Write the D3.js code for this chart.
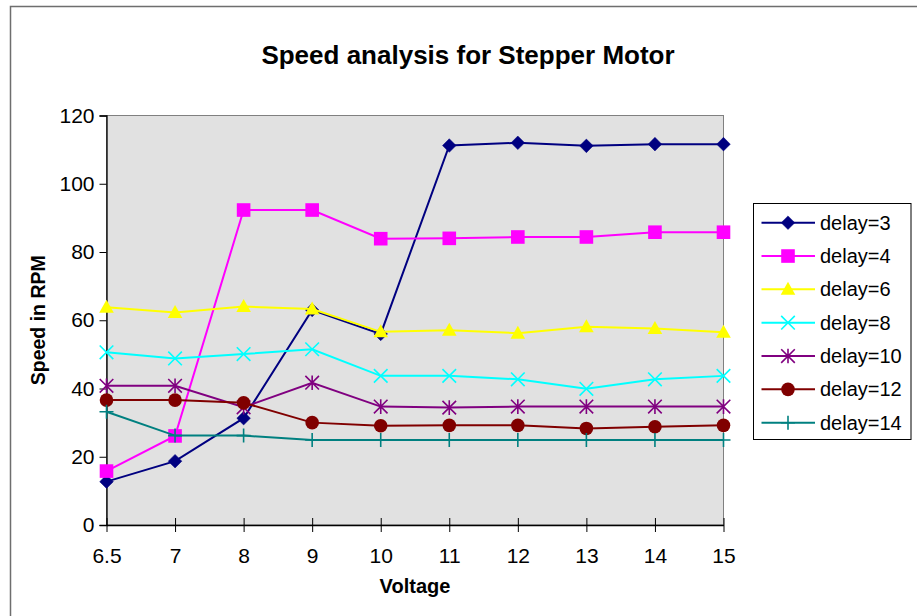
<!DOCTYPE html>
<html>
<head>
<meta charset="utf-8">
<script src="https://cdn.jsdelivr.net/npm/d3@7/dist/d3.min.js"></script>
<style>
  html, body { margin: 0; padding: 0; background: #fff; }
  svg { display: block; font-family: "Liberation Sans", Arial, sans-serif; }
</style>
</head>
<body>
<svg id="chart" width="917" height="616"></svg>
<script>
// Supply voltage steps (category axis)
const voltages = ["6.5", "7", "8", "9", "10", "11", "12", "13", "14", "15"];

// Measured speed (RPM) for each step delay setting
const seriesNames = ["delay=3", "delay=4", "delay=6", "delay=8", "delay=10", "delay=12", "delay=14"];
const delay3  = [12.7, 18.7, 31.3, 63.0, 56.0, 111.2, 112.0, 111.1, 111.6, 111.6];
const delay4  = [15.8, 26.1, 92.3, 92.3, 83.9, 84.0, 84.4, 84.4, 85.8, 85.8];
const delay6  = [63.8, 62.3, 64.0, 63.3, 56.6, 57.1, 56.2, 58.1, 57.6, 56.5];
const delay8  = [50.6, 48.8, 50.1, 51.5, 43.7, 43.7, 42.7, 39.9, 42.7, 43.7];
const delay10 = [40.8, 40.8, 34.5, 41.7, 34.7, 34.4, 34.7, 34.7, 34.7, 34.7];
const delay12 = [36.6, 36.6, 35.8, 30.0, 29.1, 29.2, 29.2, 28.3, 28.8, 29.2];
const delay14 = [33.2, 26.2, 26.2, 24.9, 24.9, 24.9, 24.9, 24.9, 24.9, 24.9];
const yTicks = [0, 20, 40, 60, 80, 100, 120];

const seriesValues = [delay3, delay4, delay6, delay8, delay10, delay12, delay14];
const colors = ["#000080", "#ff00ff", "#ffff00", "#00ffff", "#800080", "#800000", "#008080"];
const markers = ["diamond", "square", "triangle", "x", "star", "circle", "plus"];

const svg = d3.select("#chart");

// Outer chart frame (extends past the right and bottom edges)
svg.append("rect")
  .attr("x", 10.5).attr("y", 6.5)
  .attr("width", 940).attr("height", 640)
  .attr("fill", "#fff").attr("stroke", "#6e6e6e").attr("stroke-width", 1.5);

const plot = { left: 106.5, right: 723.5, top: 115.5, bottom: 525 };

const x = d3.scalePoint().domain(voltages).range([plot.left, plot.right]).padding(0);
const y = d3.scaleLinear().domain([0, 120]).range([plot.bottom, plot.top]);

// Plot area
svg.append("rect")
  .attr("x", plot.left).attr("y", plot.top)
  .attr("width", plot.right - plot.left).attr("height", plot.bottom - plot.top)
  .attr("fill", "#e1e1e1").attr("stroke", "#808080").attr("stroke-width", 1);

// Title
svg.append("text")
  .attr("x", 468).attr("y", 63.5)
  .attr("text-anchor", "middle")
  .attr("font-size", 26).attr("font-weight", "bold")
  .text("Speed analysis for Stepper Motor");

// Y axis
const yAxis = svg.append("g")
  .attr("transform", `translate(${plot.left},0)`)
  .call(d3.axisLeft(y).tickValues(yTicks).tickSize(7).tickPadding(5));
yAxis.select(".domain").attr("stroke", "#000").attr("stroke-width", 1.3);
yAxis.selectAll(".tick line").attr("stroke", "#000");
yAxis.selectAll(".tick text").attr("font-size", 21).attr("fill", "#000")
  .attr("font-family", "Liberation Sans, Arial, sans-serif");

// X axis (tick marks cross the axis line)
const xAxis = svg.append("g")
  .attr("transform", `translate(0,${plot.bottom})`)
  .call(d3.axisBottom(x).tickSize(7).tickSizeOuter(0));
xAxis.select(".domain").attr("stroke", "#000").attr("stroke-width", 1.3);
xAxis.selectAll(".tick line").attr("stroke", "#000").attr("y1", -7).attr("y2", 7);
xAxis.selectAll(".tick text").attr("font-size", 21).attr("fill", "#000")
  .attr("y", 23).attr("dy", "0.71em")
  .attr("font-family", "Liberation Sans, Arial, sans-serif");

// Axis titles
svg.append("text")
  .attr("x", (plot.left + plot.right) / 2).attr("y", 593)
  .attr("text-anchor", "middle")
  .attr("font-size", 20).attr("font-weight", "bold")
  .text("Voltage");

svg.append("text")
  .attr("transform", `translate(45,${(plot.top + plot.bottom) / 2}) rotate(-90)`)
  .attr("text-anchor", "middle")
  .attr("font-size", 19.5).attr("font-weight", "bold")
  .text("Speed in RPM");

// Marker drawing
function drawMarker(g, type, cx, cy, color) {
  const s = 6.8;
  switch (type) {
    case "diamond":
      g.append("path")
        .attr("d", `M${cx},${cy - s}L${cx + s},${cy}L${cx},${cy + s}L${cx - s},${cy}Z`)
        .attr("fill", color).attr("stroke", color).attr("stroke-width", 0.5);
      break;
    case "square":
      g.append("rect")
        .attr("x", cx - 6.8).attr("y", cy - 6.8).attr("width", 13.6).attr("height", 13.6)
        .attr("fill", color);
      break;
    case "triangle":
      g.append("path")
        .attr("d", `M${cx},${cy - 7.5}L${cx + 7.3},${cy + 5.5}L${cx - 7.3},${cy + 5.5}Z`)
        .attr("fill", color);
      break;
    case "x":
      g.append("path")
        .attr("d", `M${cx - s},${cy - s}L${cx + s},${cy + s}M${cx - s},${cy + s}L${cx + s},${cy - s}`)
        .attr("stroke", color).attr("stroke-width", 1.6).attr("fill", "none");
      break;
    case "star":
      g.append("path")
        .attr("d", `M${cx - s},${cy - s}L${cx + s},${cy + s}M${cx - s},${cy + s}L${cx + s},${cy - s}M${cx},${cy - s - 0.5}L${cx},${cy + s + 0.5}`)
        .attr("stroke", color).attr("stroke-width", 1.6).attr("fill", "none");
      break;
    case "circle":
      g.append("circle")
        .attr("cx", cx).attr("cy", cy).attr("r", 6.8)
        .attr("fill", color);
      break;
    case "plus":
      g.append("path")
        .attr("d", `M${cx - 7},${cy}L${cx + 7},${cy}M${cx},${cy - 7}L${cx},${cy + 7}`)
        .attr("stroke", color).attr("stroke-width", 1.6).attr("fill", "none");
      break;
  }
}

// Series lines and markers
const line = d3.line()
  .x((d, i) => x(voltages[i]))
  .y(d => y(d));

seriesValues.forEach((vals, si) => {
  const g = svg.append("g").attr("class", "series");
  g.append("path")
    .attr("d", line(vals))
    .attr("fill", "none")
    .attr("stroke", colors[si])
    .attr("stroke-width", 2);
  vals.forEach((v, i) => drawMarker(g, markers[si], x(voltages[i]), y(v), colors[si]));
});

// Legend
const legend = svg.append("g");
legend.append("rect")
  .attr("x", 753.5).attr("y", 203.5).attr("width", 157.5).attr("height", 236)
  .attr("fill", "#fff").attr("stroke", "#000").attr("stroke-width", 1);

seriesNames.forEach((name, si) => {
  const cy = 222.7 + si * 33.33;
  legend.append("line")
    .attr("x1", 761.5).attr("x2", 815).attr("y1", cy).attr("y2", cy)
    .attr("stroke", colors[si]).attr("stroke-width", 2);
  drawMarker(legend, markers[si], 788, cy, colors[si]);
  legend.append("text")
    .attr("x", 820).attr("y", cy).attr("dy", "0.35em")
    .attr("font-size", 20)
    .text(name);
});
</script>
</body>
</html>
